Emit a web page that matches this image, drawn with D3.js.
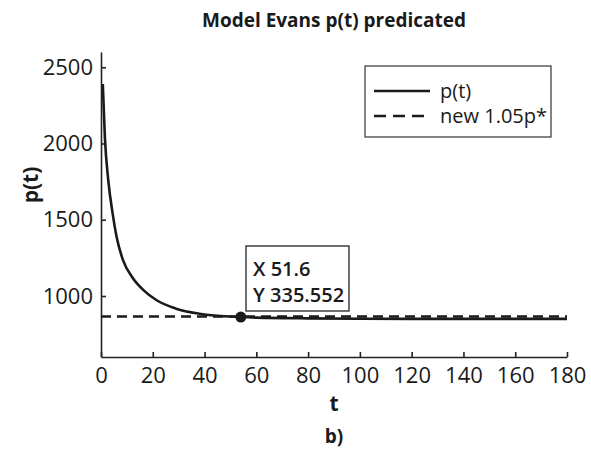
<!DOCTYPE html>
<html>
<head>
<meta charset="utf-8">
<script src="https://cdn.jsdelivr.net/npm/d3@7"></script>
<style>
  body { margin: 0; background: #fff; }
  text { font-family: "Open Sans", sans-serif; fill: #1a1a1a; }
</style>
</head>
<body>
<div id="container"></div>
<script>
let w = 591;
let h = 450;

// data
let tValues = [0.7, 1.5, 2.8, 4.5, 6, 8.5, 12, 16.5, 21.5, 29, 38, 54, 60, 80, 100, 120, 140, 160, 180];
let pValues = [2390, 2040, 1760, 1540, 1390, 1235, 1125, 1037, 972, 917, 884, 862, 858, 853, 851, 850, 850, 850, 850];
let newLineT = [0, 180];
let newLineP = [866, 866];
let markerT = 54;
let markerP = 862;
let tipLines = ["X 51.6", "Y 335.552"];
let xTicks = [0, 20, 40, 60, 80, 100, 120, 140, 160, 180];
let yTicks = [1000, 1500, 2000, 2500];
let legendLabels = ["p(t)", "new 1.05p*"];

let viz = d3.select("#container")
  .append("svg")
    .attr("width", w)
    .attr("height", h)
;

let xScale = d3.scaleLinear().domain([0, 180]).range([101, 567]);
let yScale = d3.scaleLinear().domain([600, 2600]).range([357, 52]);

// axes
let xAxisGroup = viz.append("g").attr("class", "xaxis")
  .attr("transform", "translate(0, 357)")
  .call(d3.axisBottom(xScale).tickValues(xTicks).tickFormat(d3.format("d")).tickSizeInner(-5).tickSizeOuter(0).tickPadding(10));
let yAxisGroup = viz.append("g").attr("class", "yaxis")
  .attr("transform", "translate(101, 0)")
  .call(d3.axisLeft(yScale).tickValues(yTicks).tickFormat(d3.format("d")).tickSizeInner(-5).tickSizeOuter(0).tickPadding(8));

viz.selectAll(".xaxis path, .yaxis path, .xaxis line, .yaxis line")
  .attr("stroke", "#222")
  .attr("stroke-width", 1.6);
viz.selectAll(".xaxis text, .yaxis text")
  .attr("font-family", "Open Sans")
  .attr("font-size", 22)
  .attr("fill", "#1a1a1a");

// lines
let dashedLine = d3.line()
  .x(function(d, i){ return xScale(newLineT[i]) })
  .y(function(d){ return yScale(d) });
viz.append("path")
  .attr("d", dashedLine(newLineP))
  .attr("fill", "none")
  .attr("stroke", "#1a1a1a")
  .attr("stroke-width", 2.5)
  .attr("stroke-dasharray", "10,6");

let curveLine = d3.line()
  .x(function(d, i){ return xScale(tValues[i]) })
  .y(function(d){ return yScale(d) })
  .curve(d3.curveMonotoneX);
viz.append("path")
  .attr("d", curveLine(pValues))
  .attr("fill", "none")
  .attr("stroke", "#1a1a1a")
  .attr("stroke-width", 2.6);

// data tip
viz.append("circle")
  .attr("cx", xScale(markerT))
  .attr("cy", yScale(markerP))
  .attr("r", 5.5)
  .attr("fill", "#1a1a1a");

viz.append("rect")
  .attr("x", 246).attr("y", 246)
  .attr("width", 103).attr("height", 65)
  .attr("fill", "#fff")
  .attr("stroke", "#222")
  .attr("stroke-width", 1.3);
viz.selectAll(".tip").data(tipLines).enter()
  .append("text")
    .attr("class", "tip")
    .attr("x", 253)
    .attr("y", function(d, i){ return 276 + i * 26 })
    .attr("font-size", 20)
    .attr("font-weight", 600)
    .text(function(d){ return d });

// legend
viz.append("rect")
  .attr("x", 365).attr("y", 66)
  .attr("width", 186).attr("height", 71)
  .attr("fill", "#fff")
  .attr("stroke", "#333")
  .attr("stroke-width", 1.2);
let legendRows = viz.selectAll(".legendrow").data(legendLabels).enter()
  .append("g")
    .attr("class", "legendrow")
    .attr("transform", function(d, i){ return "translate(0, " + (91 + i * 25) + ")" });
legendRows.append("line")
  .attr("x1", 374).attr("x2", 430)
  .attr("stroke", "#1a1a1a")
  .attr("stroke-width", 2.5)
  .attr("stroke-dasharray", function(d, i){ return i == 0 ? null : "12,7" });
legendRows.append("text")
  .attr("x", 440)
  .attr("y", 7)
  .attr("font-size", 20)
  .text(function(d){ return d });

// titles
viz.append("text")
  .attr("x", 334).attr("y", 27)
  .attr("text-anchor", "middle")
  .attr("font-size", 19)
  .attr("font-weight", 700)
  .text("Model Evans p(t) predicated");
viz.append("text")
  .attr("transform", "translate(38, 185) rotate(-90)")
  .attr("text-anchor", "middle")
  .attr("font-size", 21)
  .attr("font-weight", 700)
  .text("p(t)");
viz.append("text")
  .attr("x", 334).attr("y", 411)
  .attr("text-anchor", "middle")
  .attr("font-size", 21)
  .attr("font-weight", 700)
  .text("t");
viz.append("text")
  .attr("x", 334).attr("y", 443)
  .attr("text-anchor", "middle")
  .attr("font-size", 19)
  .attr("font-weight", 700)
  .text("b)");
</script>
</body>
</html>
